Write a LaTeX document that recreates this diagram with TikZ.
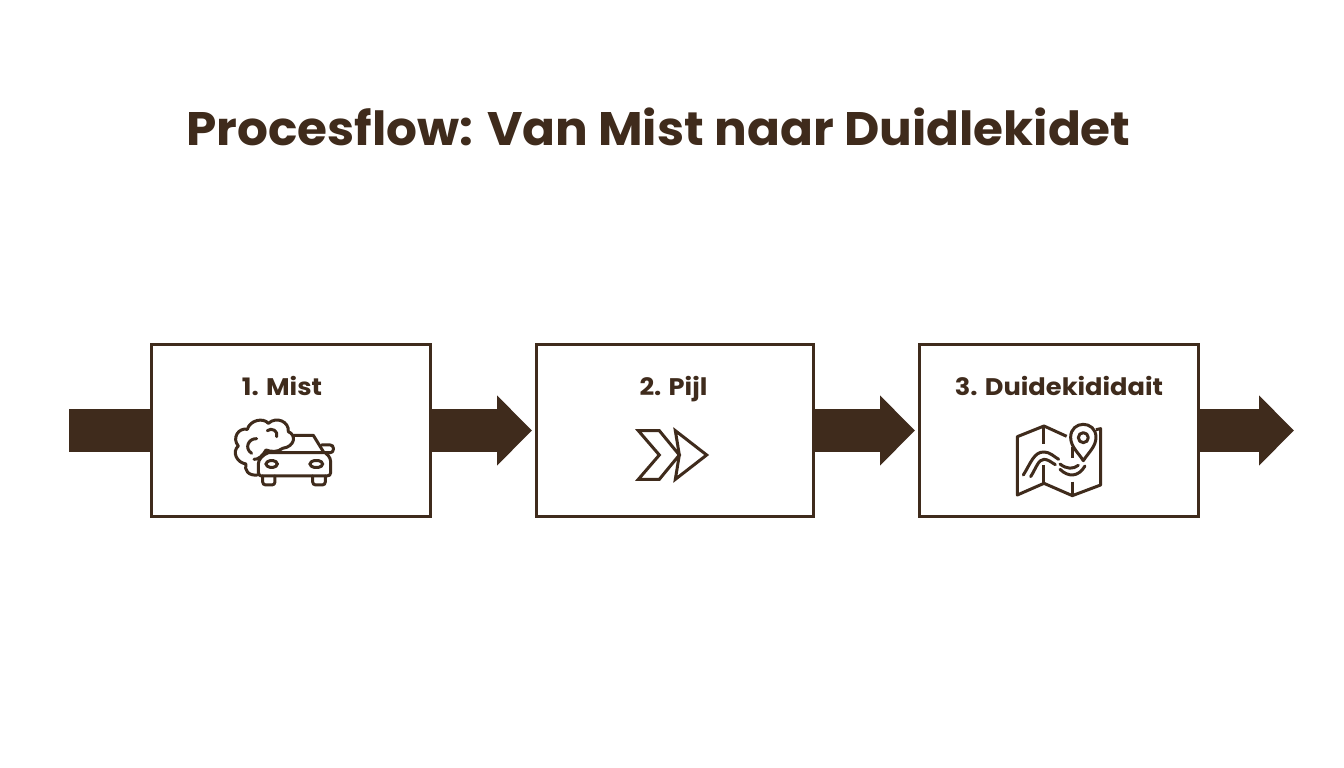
\documentclass[tikz,border=0pt]{standalone}
\usepackage{fontspec}
\setmainfont{Poppins}[BoldFont={Poppins Bold}]
\newfontfamily\wideb[FakeStretch=1.033]{Poppins Bold}
\newfontfamily\widel[FakeStretch=1.07]{Poppins Bold}
\usetikzlibrary{arrows.meta}
\definecolor{ink}{HTML}{3F2B1C}
\tikzset{
  box/.style={draw=ink,line width=3pt,fill=white,minimum width=#1,minimum height=172pt,inner sep=0pt,outer sep=0pt},
  flow/.style={draw=ink,line width=43pt},
  flowtip/.style={flow,-{Triangle[length=35pt,width=68pt,fill=ink]}},
  label/.style={text=ink,font=\widel\fontsize{24}{26}\selectfont,inner sep=0pt,anchor=base},
  icon/.style={draw=ink,line width=3pt,line cap=round,line join=round,rounded corners=0pt},
}
\begin{document}
\begin{tikzpicture}[x=1pt,y=-1pt]
\useasboundingbox (0,0) rectangle (1344,768);
\fill[white] (0,0) rectangle (1344,768);
\node[text=ink,font=\wideb\fontsize{47}{52}\selectfont,inner sep=0pt] (title) at (658.5,127) {Procesflow: Van Mist naar Duidlekidet};
\coordinate (start) at (69,430.5);
\coordinate (end1) at (532,430.5);
\coordinate (end2) at (915,430.5);
\coordinate (end3) at (1294,430.5);
\node[box=279pt] (b1) at (291,430.5) {};
\node[box=277pt] (b2) at (674.5,430.5) {};
\node[box=279pt] (b3) at (1059,430.5) {};
\draw[flow] (start) -- (b1.west);
\draw[flowtip] (b1.east) -- (end1);
\draw[flowtip] (b2.east) -- (end2);
\draw[flowtip] (b3.east) -- (end3);
\node[label] (l1) at (282,395) {1. Mist};
\node[label] (l2) at (673.5,395) {2. Pijl};
\node[label] (l3) at (1059,395) {3. Duidekididait};
% car
\begin{scope}[shift={(140,340)},x=0.3333pt,y=-0.3333pt]
\draw[icon] (352,405) .. controls (325,408) and (312,390) .. (318,372)
  .. controls (290,368) and (275,335) .. (295,318)
  .. controls (275,295) and (295,262) .. (322,268)
  .. controls (330,240) and (370,232) .. (385,250)
  .. controls (410,228) and (448,245) .. (445,275)
  .. controls (470,285) and (465,320) .. (428,325)
  .. controls (412,338) and (392,335) .. (378,330)
  .. controls (370,345) and (355,360) .. (342,358);
\draw[icon] (350,296) .. controls (325,295) and (312,325) .. (335,340);
\draw[icon] (382,272) .. controls (395,262) and (415,272) .. (410,290);
\draw[icon] (462,286) -- (520,286) -- (552,338);
\draw[icon] (385,338) -- (555,338) .. controls (572,350) and (572,360) .. (572,372) -- (572,398) .. controls (572,405) and (568,408) .. (560,408) -- (368,408) .. controls (358,408) and (355,404) .. (355,396) -- (355,372) .. controls (355,358) and (368,345) .. (385,338);
\draw[icon,rounded corners=3pt] (545,315) -- (580,315) -- (580,338) -- (555,338);
\draw[icon,rounded corners=4pt] (378,362) rectangle (412,382);
\draw[icon,rounded corners=4pt] (510,362) rectangle (548,382);
\draw[icon,rounded corners=3pt] (368,408) -- (368,435) -- (405,435) -- (405,408);
\draw[icon,rounded corners=3pt] (518,408) -- (518,435) -- (556,435) -- (556,408);
\end{scope}
% chevrons
\begin{scope}[shift={(600,370)},x=0.3333pt,y=-0.3333pt]
\draw[icon,line cap=butt,line join=miter] (115,182) -- (178,182) -- (238,255) -- (178,328) -- (115,328) -- (178,255) -- cycle;
\draw[icon,line cap=butt,line join=miter] (226,182) -- (320,255) -- (226,328) -- (238,255) -- cycle;
\end{scope}
% map
\begin{scope}[shift={(910,340)},x=0.3333pt,y=-0.3333pt]
\draw[icon,line cap=butt] (470,289) -- (402,258) -- (322,290) -- (322,465) -- (402,430) -- (487,467) -- (572,435) -- (572,266) -- (558,269);
\draw[icon,line cap=butt] (402,258) -- (402,312);
\draw[icon,line cap=butt] (402,375) -- (402,430);
\draw[icon,line cap=butt] (487,322) -- (487,355);
\draw[icon,line cap=butt] (487,425) -- (487,467);
\draw[icon] (520,362) .. controls (505,338) and (482,320) .. (482,292) .. controls (482,240) and (558,240) .. (558,292) .. controls (558,320) and (535,338) .. (520,362) -- cycle;
\draw[icon] (520,293) circle[radius=15];
\draw[icon] (340,405) .. controls (362,370) and (372,335) .. (402,336) .. controls (420,336) and (432,350) .. (446,358);
\draw[icon] (362,410) .. controls (378,385) and (385,358) .. (402,358) .. controls (415,358) and (425,368) .. (436,374);
\draw[icon] (450,372) .. controls (470,388) and (490,388) .. (505,376);
\draw[icon] (450,388) .. controls (475,412) and (505,412) .. (525,378);
\end{scope}
\end{tikzpicture}
\end{document}
